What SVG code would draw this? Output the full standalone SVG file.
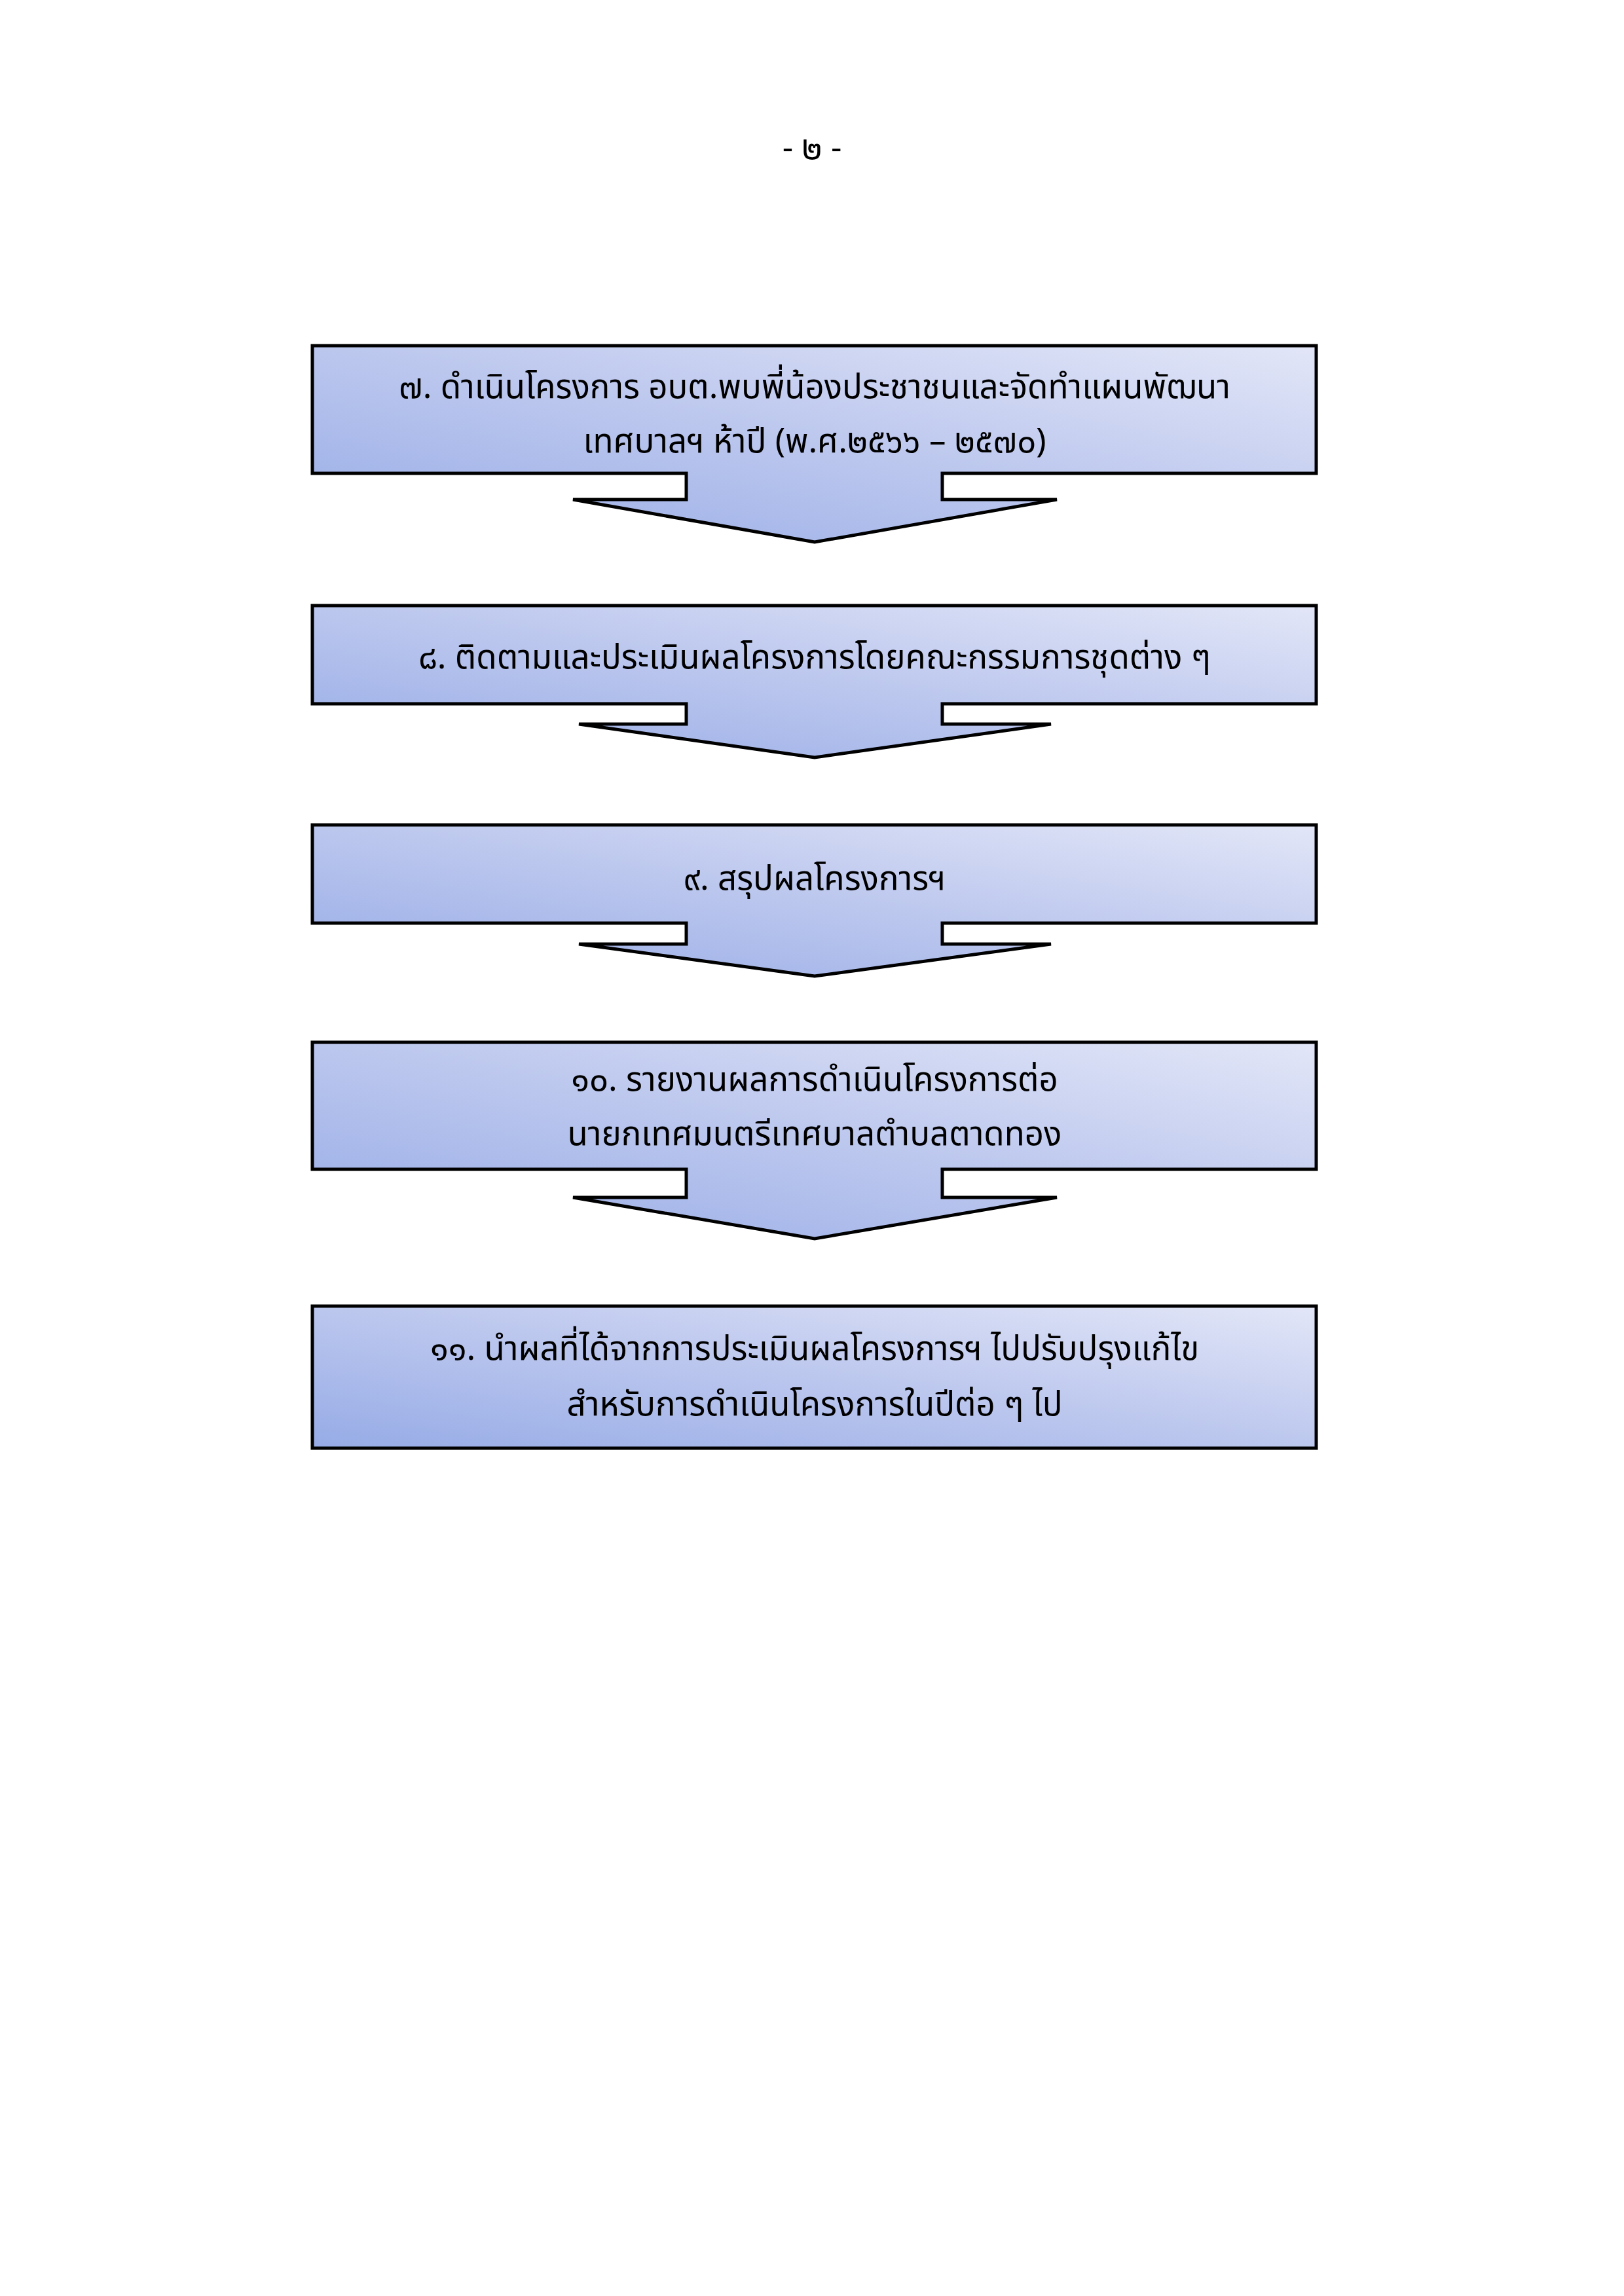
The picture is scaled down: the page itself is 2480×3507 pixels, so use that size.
<svg xmlns="http://www.w3.org/2000/svg" width="2480" height="3507" viewBox="0 0 2480 3507">
<defs>
<linearGradient id="g" x1="0" y1="1" x2="1" y2="0">
<stop offset="0" stop-color="#96abe6"/>
<stop offset="0.5" stop-color="#bcc7ee"/>
<stop offset="1" stop-color="#e2e6f7"/>
</linearGradient>
<style>
.s{fill:url(#g);stroke:#000;stroke-width:5;stroke-linejoin:miter}
.t{font-family:"Noto Sans Thai","Noto Sans","DejaVu Sans",sans-serif;font-size:51px;fill:#000;text-anchor:middle}
</style>
</defs>
<rect width="2480" height="3507" fill="#fff"/>
<text class="t" x="1240" y="243">- ๒ -</text>
<g id="n7">
<path class="s" d="M477,528 H2010 V723 H1439 V763 H1614 L1244,828 L875,763 H1048 V723 H477 Z"/>
<text class="t" x="1244" y="608">๗. ดำเนินโครงการ อบต.พบพี่น้องประชาชนและจัดทำแผนพัฒนา</text>
<text class="t" x="1244" y="691">เทศบาลฯ ห้าปี (พ.ศ.๒๕๖๖ – ๒๕๗๐)</text>
</g>
<g id="n8">
<path class="s" d="M477,925 H2010 V1075 H1439 V1106 H1605 L1244,1157 L884,1106 H1048 V1075 H477 Z"/>
<text class="t" x="1244" y="1021">๘. ติดตามและประเมินผลโครงการโดยคณะกรรมการชุดต่าง ๆ</text>
</g>
<g id="n9">
<path class="s" d="M477,1260 H2010 V1410 H1439 V1442 H1605 L1244,1491 L884,1442 H1048 V1410 H477 Z"/>
<text class="t" x="1244" y="1359">๙. สรุปผลโครงการฯ</text>
</g>
<g id="n10">
<path class="s" d="M477,1592 H2010 V1786 H1439 V1829 H1614 L1244,1892 L875,1829 H1048 V1786 H477 Z"/>
<text class="t" x="1244" y="1666">๑๐. รายงานผลการดำเนินโครงการต่อ</text>
<text class="t" x="1244" y="1749">นายกเทศมนตรีเทศบาลตำบลตาดทอง</text>
</g>
<g id="n11">
<rect class="s" x="477" y="1995" width="1533" height="217"/>
<text class="t" x="1244" y="2077">๑๑. นำผลที่ได้จากการประเมินผลโครงการฯ ไปปรับปรุงแก้ไข</text>
<text class="t" x="1244" y="2162">สำหรับการดำเนินโครงการในปีต่อ ๆ ไป</text>
</g>
<g id="connectors"/>
</svg>
